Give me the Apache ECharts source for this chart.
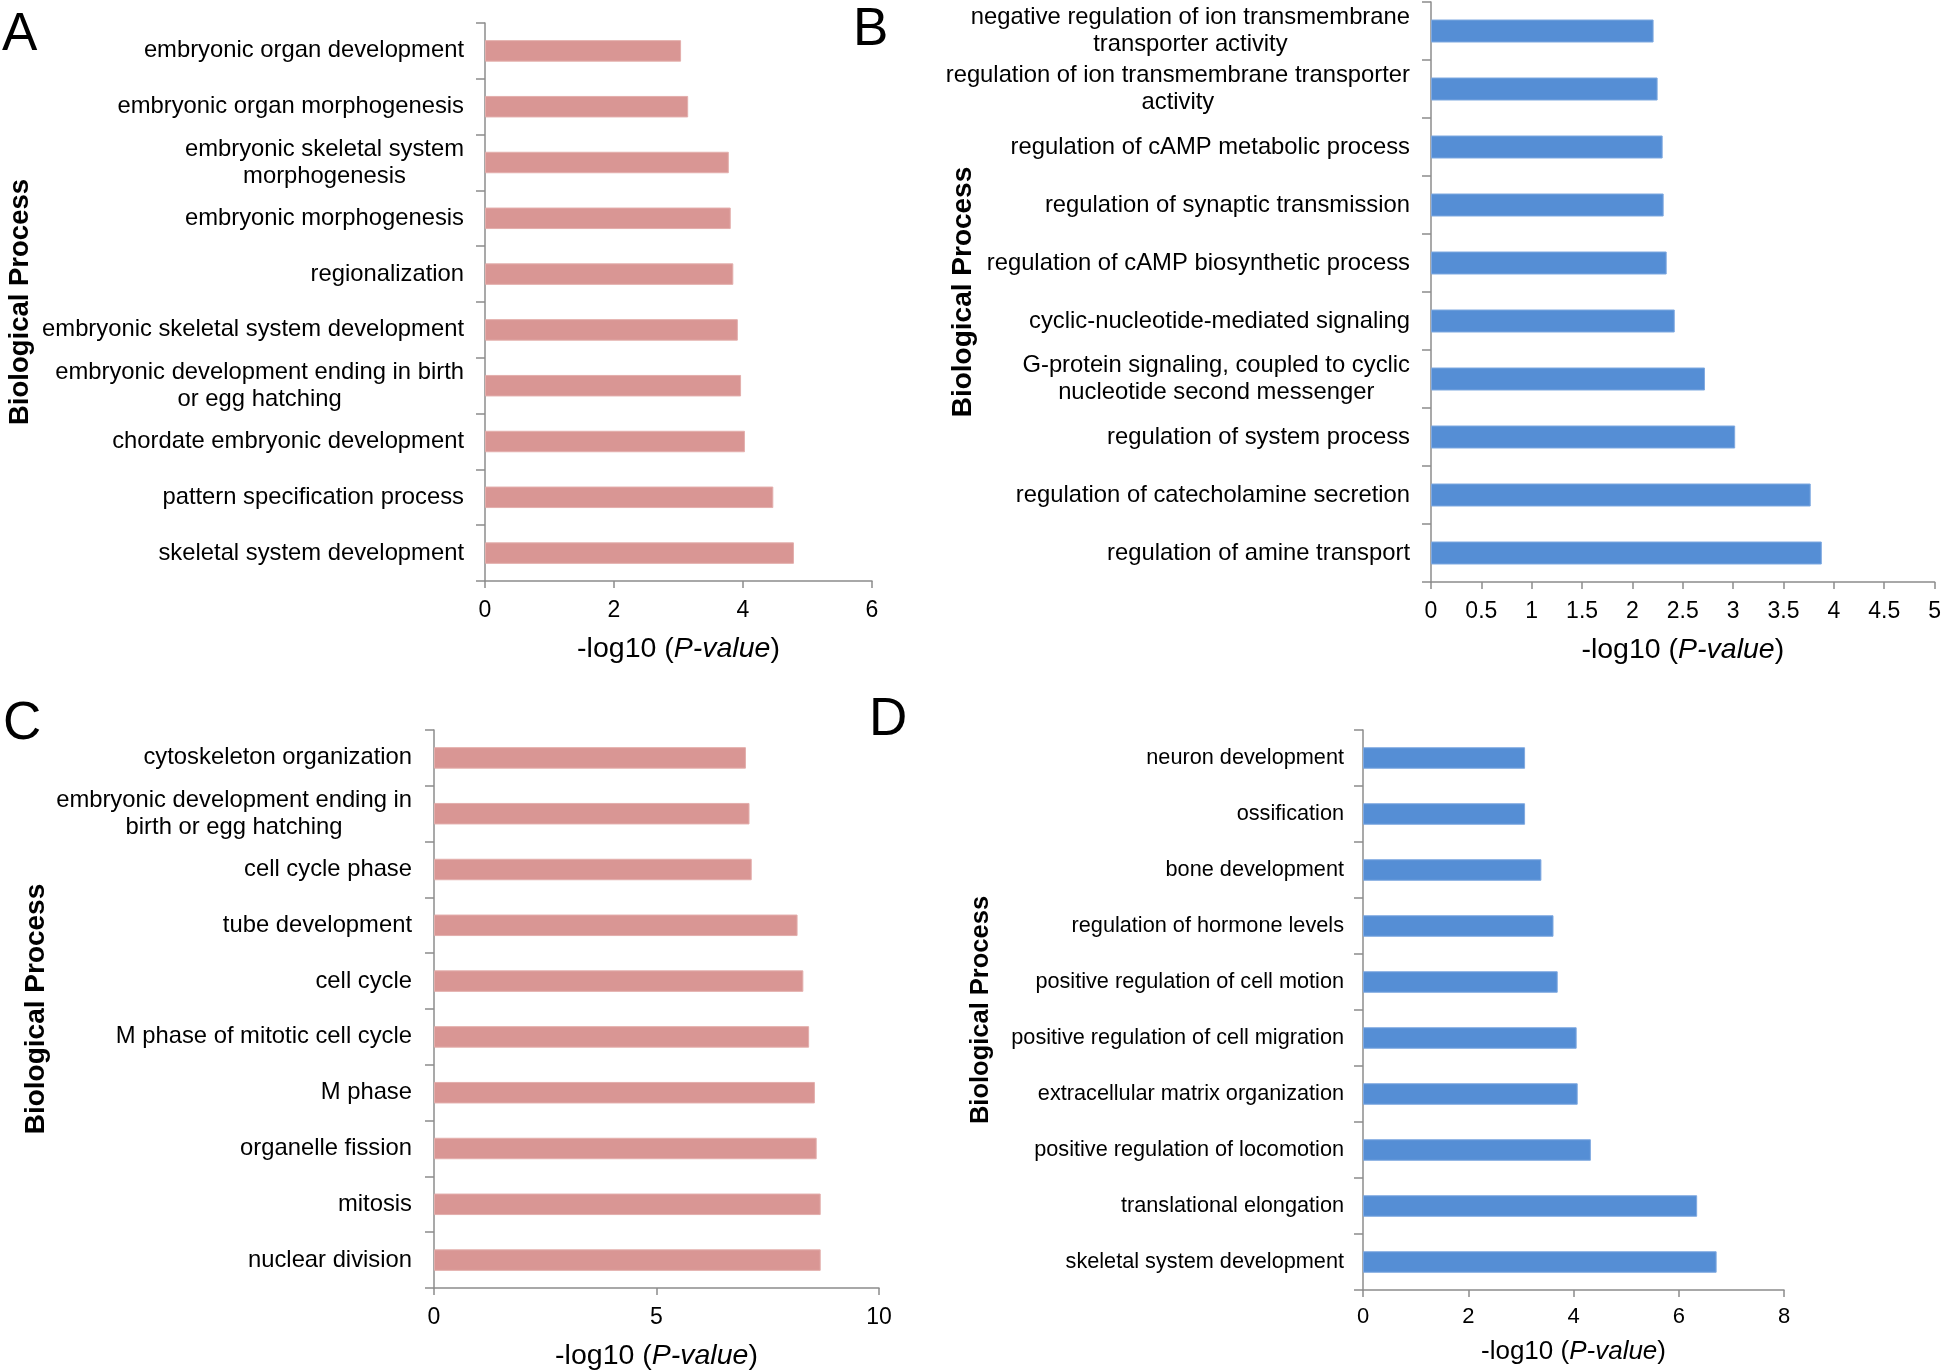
<!DOCTYPE html>
<html>
<head>
<meta charset="utf-8">
<script src="https://cdn.jsdelivr.net/npm/echarts@6/dist/echarts.min.js"></script>
<style>
  html, body { margin: 0; padding: 0; background: #ffffff; }
  #chart { width: 1944px; height: 1372px; }
</style>
</head>
<body>
<div id="chart"></div>
<script>
// ---------- DATA (categories listed top to bottom) ----------
const catsA = [
  'embryonic organ development',
  'embryonic organ morphogenesis',
  'embryonic skeletal system\nmorphogenesis',
  'embryonic morphogenesis',
  'regionalization',
  'embryonic skeletal system development',
  'embryonic development ending in birth\nor egg hatching',
  'chordate embryonic development',
  'pattern specification process',
  'skeletal system development'
];
const valsA = [3.04, 3.15, 3.78, 3.81, 3.85, 3.92, 3.97, 4.03, 4.47, 4.79];
const ticksA = [0, 2, 4, 6];

const catsB = [
  'negative regulation of ion transmembrane\ntransporter activity',
  'regulation of ion transmembrane transporter\nactivity',
  'regulation of cAMP metabolic process',
  'regulation of synaptic transmission',
  'regulation of cAMP biosynthetic process',
  'cyclic-nucleotide-mediated signaling',
  'G-protein signaling, coupled to cyclic\nnucleotide second messenger',
  'regulation of system process',
  'regulation of catecholamine secretion',
  'regulation of amine transport'
];
const valsB = [2.21, 2.25, 2.30, 2.31, 2.34, 2.42, 2.72, 3.02, 3.77, 3.88];
const ticksB = [0, 0.5, 1, 1.5, 2, 2.5, 3, 3.5, 4, 4.5, 5];

const catsC = [
  'cytoskeleton organization',
  'embryonic development ending in\nbirth or egg hatching',
  'cell cycle phase',
  'tube development',
  'cell cycle',
  'M phase of mitotic cell cycle',
  'M phase',
  'organelle fission',
  'mitosis',
  'nuclear division'
];
const valsC = [7.01, 7.09, 7.14, 8.17, 8.30, 8.43, 8.56, 8.60, 8.69, 8.69];
const ticksC = [0, 5, 10];

const catsD = [
  'neuron development',
  'ossification',
  'bone development',
  'regulation of hormone levels',
  'positive regulation of cell motion',
  'positive regulation of cell migration',
  'extracellular matrix organization',
  'positive regulation of locomotion',
  'translational elongation',
  'skeletal system development'
];
const valsD = [3.08, 3.08, 3.39, 3.62, 3.70, 4.06, 4.08, 4.33, 6.35, 6.72];
const ticksD = [0, 2, 4, 6, 8];

const panelLetters = ['A', 'B', 'C', 'D'];
const yTitle = 'Biological Process';
const xTitlePre = '-log10 (';
const xTitleItalic = 'P-value';
const xTitlePost = ')';

// ---------- STYLE / LAYOUT ----------
const FONT = "'Liberation Sans', Arial, Helvetica, sans-serif";
const PINK = '#D99694', PINK_EDGE = '#E3AEAC';
const BLUE = '#558ED5', BLUE_EDGE = '#7FA9E0';
const AXIS = '#8C8C8C';

const panels = [
  { cats: catsA, vals: valsA, ticks: ticksA, color: PINK, edge: PINK_EDGE,
    grid: { left: 485, top: 23, width: 387, height: 558 },
    labelSize: 23.8, lineH: 27, tickSize: 23, titleSize: 28.5, yTitleSize: 27.5,
    yNameGap: 451, xNameGap: 54, barWidth: 21.5, labelMargin: 21, tickMargin: 18 },
  { cats: catsB, vals: valsB, ticks: ticksB, color: BLUE, edge: BLUE_EDGE,
    grid: { left: 1431, top: 2, width: 506, height: 580 },
    labelSize: 23.8, lineH: 27, tickSize: 23, titleSize: 28.5, yTitleSize: 28,
    yNameGap: 454, xNameGap: 54, barWidth: 23, labelMargin: 21, tickMargin: 18 },
  { cats: catsC, vals: valsC, ticks: ticksC, color: PINK, edge: PINK_EDGE,
    grid: { left: 434, top: 730, width: 445, height: 559 },
    labelSize: 23.8, lineH: 27, tickSize: 23, titleSize: 28.5, yTitleSize: 28,
    yNameGap: 384, xNameGap: 54, barWidth: 21.5, labelMargin: 22, tickMargin: 18 },
  { cats: catsD, vals: valsD, ticks: ticksD, color: BLUE, edge: BLUE_EDGE,
    grid: { left: 1363, top: 730, width: 421, height: 560 },
    labelSize: 21.7, lineH: 25, tickSize: 22, titleSize: 26, yTitleSize: 25.5,
    yNameGap: 369, xNameGap: 49, barWidth: 21.5, labelMargin: 19, tickMargin: 16 }
];

const letterPos = [ [2, 35], [853, 30], [3, 724], [869, 720] ];

const grids = [], xAxes = [], yAxes = [], series = [];
panels.forEach((p, i) => {
  grids.push(Object.assign({ containLabel: false }, p.grid));
  const t = p.ticks;
  xAxes.push({
    type: 'value', gridIndex: i,
    min: t[0], max: t[t.length - 1], interval: t[1] - t[0],
    axisLine: { show: true, lineStyle: { color: AXIS, width: 1.5 } },
    axisTick: { show: true, inside: false, length: 7, lineStyle: { color: AXIS, width: 1.5 } },
    splitLine: { show: false },
    axisLabel: { fontSize: p.tickSize, fontFamily: FONT, color: '#000', margin: p.tickMargin },
    name: '{n|' + xTitlePre + '}{i|' + xTitleItalic + '}{n|' + xTitlePost + '}',
    nameLocation: 'middle', nameGap: p.xNameGap, nameMoveOverlap: false,
    nameTextStyle: {
      fontFamily: FONT, fontSize: p.titleSize, color: '#000',
      rich: {
        n: { fontFamily: FONT, fontSize: p.titleSize, color: '#000' },
        i: { fontFamily: FONT, fontSize: p.titleSize, color: '#000', fontStyle: 'italic' }
      }
    }
  });
  yAxes.push({
    type: 'category', gridIndex: i, data: p.cats, inverse: true,
    axisLine: { show: true, lineStyle: { color: AXIS, width: 1.5 } },
    axisTick: { show: true, inside: false, length: 9, alignWithLabel: false, interval: 0,
                lineStyle: { color: AXIS, width: 1.5 } },
    splitLine: { show: false },
    axisLabel: {
      interval: 0, margin: p.labelMargin, color: '#000',
      fontFamily: FONT, fontSize: p.labelSize, lineHeight: p.lineH,
      formatter: v => v.split('\n').map(s => '{c|' + s + '}').join('\n'),
      rich: { c: { align: 'center', fontFamily: FONT, fontSize: p.labelSize,
                   lineHeight: p.lineH, color: '#000' } }
    },
    name: yTitle, nameLocation: 'middle', nameGap: p.yNameGap, nameMoveOverlap: false,
    nameTextStyle: { fontFamily: FONT, fontSize: p.yTitleSize, fontWeight: 'bold', color: '#000' }
  });
  series.push({
    type: 'bar', xAxisIndex: i, yAxisIndex: i, data: p.vals,
    barWidth: p.barWidth, silent: true,
    itemStyle: { color: p.color, borderColor: p.edge, borderWidth: 1 }
  });
});

const graphics = panelLetters.map((L, i) => ({
  type: 'text', left: letterPos[i][0], top: letterPos[i][1] - 26,
  style: { text: L, fontFamily: FONT, fontSize: 53, fill: '#000' }
}));

const chart = echarts.init(document.getElementById('chart'), null, { renderer: 'canvas' });
chart.setOption({
  backgroundColor: '#ffffff',
  animation: false,
  grid: grids, xAxis: xAxes, yAxis: yAxes, series: series,
  graphic: graphics
});
</script>
</body>
</html>
